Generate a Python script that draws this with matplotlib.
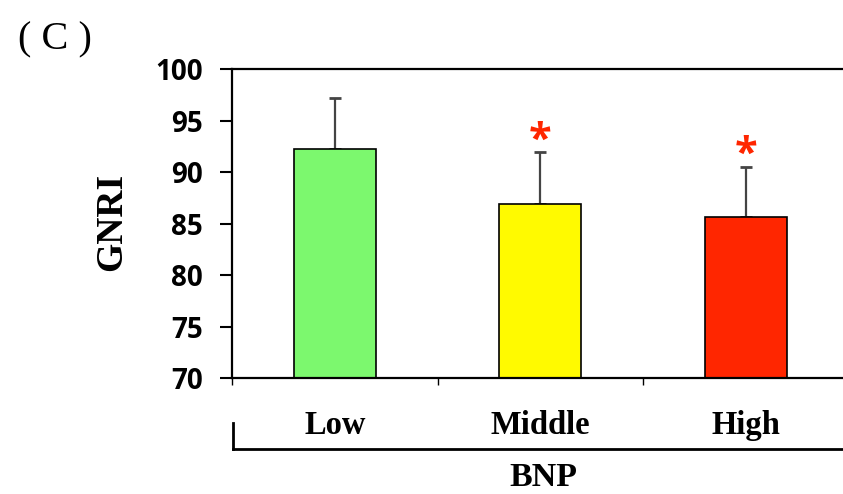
import matplotlib
matplotlib.use("Agg")
import matplotlib.pyplot as plt
from matplotlib.lines import Line2D

categories = ["Low", "Middle", "High"]
means = [92.2, 86.9, 85.6]
sds = [5.0, 5.0, 4.9]
colors = ["#7CF86E", "#FFFA00", "#FF2600"]
significant = [False, True, True]
yticks = [70, 75, 80, 85, 90, 95, 100]

W, H = 843, 494
fig = plt.figure(figsize=(W / 100, H / 100), dpi=100)
ax = fig.add_axes([232 / W, 1 - 378 / H, (848.5 - 232) / W, (378 - 69) / H])

x = list(range(len(categories)))
ax.bar(x, [m - 70 for m in means], bottom=70, width=0.4, color=colors,
       edgecolor="black", linewidth=1.2, zorder=2)
ax.errorbar(x, means, yerr=[[0] * 3, sds], fmt="none", ecolor="#444444",
            elinewidth=1.6, capsize=4, capthick=2, zorder=1)

for xi, m, s, sig in zip(x, means, sds, significant):
    if sig:
        ax.annotate("*", xy=(xi, m + s), xytext=(0, -6.5), textcoords="offset points",
                    ha="center", va="bottom", color="#FF2600", fontsize=30,
                    fontweight="bold", family="Open Sans")

ax.set_ylim(70, 100)
ax.set_xlim(-0.5, 2.5)
ax.set_yticks(yticks)
ax.set_yticklabels([str(t) for t in yticks], fontsize=20, fontweight="bold", family="Open Sans")
ax.tick_params(axis="y", direction="out", length=9, width=1.5, pad=12)

ax.set_xticks([-0.5, 0.5, 1.5, 2.5])
ax.set_xticklabels([])
ax.tick_params(axis="x", which="major", direction="out", length=5, width=1)
ax.set_xticks(x, minor=True)
ax.set_xticklabels(categories, minor=True, fontsize=23.5, fontweight="bold",
                   family="Liberation Serif")
ax.tick_params(axis="x", which="minor", length=0, pad=23)

for s in ["left", "top", "bottom"]:
    ax.spines[s].set_linewidth(1.6)
ax.spines["right"].set_visible(False)

fig.text(112 / W, 1 - 222 / H, "GNRI", rotation=90, ha="center", va="center",
         fontsize=27, fontweight="bold", family="Liberation Serif")

# bracket below the category labels
by = 1 - 449 / H
fig.add_artist(Line2D([233 / W, 1.0], [by, by], transform=fig.transFigure,
                      color="black", linewidth=2))
fig.add_artist(Line2D([233 / W, 233 / W], [by, 1 - 423 / H], transform=fig.transFigure,
                      color="black", linewidth=2))

fig.text(543 / W, 1 - 477 / H, "BNP", ha="center", va="center", fontsize=24.5,
         fontweight="bold", family="Liberation Serif")
fig.text(55 / W, 1 - 40 / H, "( C )", ha="center", va="center", fontsize=29,
         family="Liberation Serif")

fig.savefig("out.png", dpi=100)
